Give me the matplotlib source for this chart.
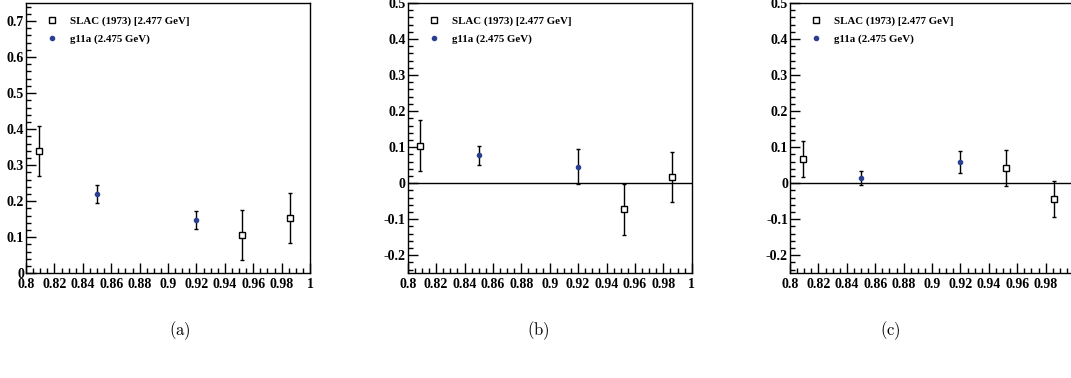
import matplotlib
matplotlib.use("Agg")
import matplotlib.pyplot as plt
from matplotlib.ticker import MultipleLocator, FixedLocator

plt.rcParams['mathtext.fontset'] = 'cm'

# ---- data ----
slac_x = [0.809, 0.952, 0.986]
g11a_x = [0.850, 0.920]

a_slac_y = [0.340, 0.106, 0.153]
a_slac_e = [0.070, 0.070, 0.070]
a_g11a_y = [0.219, 0.147]
a_g11a_e = [0.025, 0.025]

b_slac_y = [0.104, -0.072, 0.017]
b_slac_e = [0.070, 0.071, 0.070]
b_g11a_y = [0.077, 0.046]
b_g11a_e = [0.027, 0.048]

c_slac_y = [0.067, 0.042, -0.044]
c_slac_e = [0.050, 0.050, 0.050]
c_g11a_y = [0.015, 0.059]
c_g11a_e = [0.020, 0.030]

xticks = [0.8, 0.82, 0.84, 0.86, 0.88, 0.9, 0.92, 0.94, 0.96, 0.98, 1.0]
xticklabels = ["0.8", "0.82", "0.84", "0.86", "0.88", "0.9", "0.92", "0.94", "0.96", "0.98", "1"]
a_yticks = [0, 0.1, 0.2, 0.3, 0.4, 0.5, 0.6, 0.7]
a_yticklabels = ["0", "0.1", "0.2", "0.3", "0.4", "0.5", "0.6", "0.7"]
bc_yticks = [-0.2, -0.1, 0, 0.1, 0.2, 0.3, 0.4, 0.5]
bc_yticklabels = ["-0.2", "-0.1", "0", "0.1", "0.2", "0.3", "0.4", "0.5"]

slac_label = "SLAC (1973) [2.477 GeV]"
g11a_label = "g11a (2.475 GeV)"
captions = ["a", "b", "c"]

W, H = 1071, 378
fig = plt.figure(figsize=(W / 100, H / 100), dpi=100)

tfont = dict(family="Liberation Serif", weight="bold", size=10)
blue = "#2a3f91"

panels = [
    (26.0, (0, 0.75), a_yticks, a_yticklabels, a_slac_y, a_slac_e, a_g11a_y, a_g11a_e, False, 180),
    (407.7, (-0.25, 0.5), bc_yticks, bc_yticklabels, b_slac_y, b_slac_e, b_g11a_y, b_g11a_e, True, 538),
    (790.0, (-0.25, 0.5), bc_yticks, bc_yticklabels, c_slac_y, c_slac_e, c_g11a_y, c_g11a_e, True, 890),
]

ax_w = 284.0
ax_top = 3.0
ax_bot = 273.3

for i, (left, ylim, yt, ytl, sy, se, gy, ge, zero, capx) in enumerate(panels):
    ax = fig.add_axes([left / W, 1 - ax_bot / H, ax_w / W, (ax_bot - ax_top) / H])
    ax.set_xlim(0.8, 1.0)
    ax.set_ylim(*ylim)
    if zero:
        ax.axhline(0, color="black", lw=1.0, zorder=1)
    ax.errorbar(slac_x, sy, yerr=se, fmt="s", ms=4.5, mfc="white", mec="black",
                mew=1.0, ecolor="black", elinewidth=1.0, capsize=1.5, capthick=1.0,
                zorder=3, label=slac_label)
    ax.errorbar(g11a_x, gy, yerr=ge, fmt="o", ms=3.0, mfc=blue, mec=blue,
                ecolor="black", elinewidth=1.0, capsize=1.5, capthick=1.0,
                zorder=3, label=g11a_label)
    ax.xaxis.set_major_locator(FixedLocator(xticks))
    xl = list(xticklabels)
    if left + ax_w > W:
        xl[-1] = ""  # lies beyond the picture's right edge in the reference
    ax.set_xticklabels(xl, **tfont)
    ax.xaxis.set_minor_locator(MultipleLocator(0.005))
    ax.yaxis.set_major_locator(FixedLocator(yt))
    ax.set_yticklabels(ytl, **tfont)
    ax.yaxis.set_minor_locator(MultipleLocator(0.02))
    ax.tick_params(which="both", direction="in", top=False, right=False, width=1.0)
    ax.tick_params(which="major", length=7)
    ax.tick_params(axis="x", which="major", pad=3.5)
    ax.tick_params(axis="y", which="major", pad=1.5)
    ax.tick_params(which="minor", length=3.5)
    for s in ax.spines.values():
        s.set_linewidth(1.0)
    handles, labels = ax.get_legend_handles_labels()
    handles = [h[0] for h in handles]
    ax.legend(handles, labels, loc="upper left", bbox_to_anchor=(0.057, 0.966),
              frameon=False, prop=dict(family="Liberation Serif", weight="bold", size=7.8),
              handlelength=1.0, handletextpad=1.2, labelspacing=0.75, borderaxespad=0)
    fig.text(capx / W, 1 - 331 / H, r"$(\mathrm{%s})$" % captions[i], ha="center", va="center", fontsize=12)

fig.savefig("out.png", dpi=100)
